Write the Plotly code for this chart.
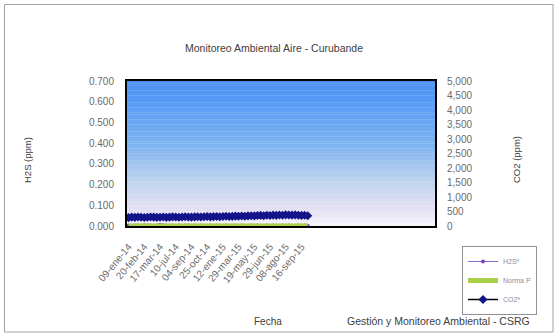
import plotly.graph_objects as go

fechas = ["09-ene-14","16-ene-14","24-ene-14","03-feb-14","11-feb-14","20-feb-14","26-feb-14","04-mar-14","07-mar-14","12-mar-14",
          "17-mar-14","08-abr-14","05-may-14","09-jun-14","26-jun-14","10-jul-14","22-jul-14","01-ago-14","14-ago-14","25-ago-14",
          "04-sep-14","12-sep-14","22-sep-14","02-oct-14","14-oct-14","25-oct-14","06-nov-14","19-nov-14","02-dic-14","16-dic-14",
          "12-ene-15","26-ene-15","09-feb-15","23-feb-15","12-mar-15","29-mar-15","08-abr-15","17-abr-15","28-abr-15","08-may-15",
          "19-may-15","26-may-15","03-jun-15","12-jun-15","20-jun-15","29-jun-15","03-jul-15","09-jul-15","15-jul-15","22-jul-15",
          "08-ago-15","13-ago-15","19-ago-15","24-ago-15","30-ago-15","16-sep-15","20-sep-15","24-sep-15"]
tick_fechas = ["09-ene-14","20-feb-14","17-mar-14","10-jul-14","04-sep-14","25-oct-14",
               "12-ene-15","29-mar-15","19-may-15","29-jun-15","08-ago-15","16-sep-15"]
co2_ppm = [290, 305, 298, 310, 302, 295, 300, 312, 306, 299, 303, 310, 298, 305, 315, 308, 300, 311, 318, 309,
           305, 314, 320, 312, 318, 325, 316, 322, 330, 320, 326, 335, 328, 332, 340, 336, 345, 338, 350, 356,
           348, 360, 366, 355, 370, 362, 375, 368, 380, 372, 385, 378, 376, 382, 370, 365, 372, 355]
h2s_ppm = [0.002, 0.001, 0.003, 0.002, 0.001, 0.004, 0.002, 0.003, 0.001, 0.002, 0.006, 0.004, 0.002, 0.001, 0.002,
           0.001, 0.002, 0.001, 0.003, 0.002, 0.001, 0.002, 0.001, 0.002, 0.001, 0.001, 0.002, 0.001, 0.002, 0.001,
           0.001, 0.002, 0.001, 0.001, 0.002, 0.001, 0.002, 0.001, 0.001, 0.002, 0.001, 0.002, 0.001, 0.001, 0.002,
           0.001, 0.002, 0.001, 0.001, 0.002, 0.001, 0.002, 0.001, 0.001, 0.002, 0.001, 0.002, 0.001]
norma_x = ["09-ene-14", "24-sep-15"]
norma_ppm = [0.0, 0.0]
h2s_ticks = [0.0, 0.1, 0.2, 0.3, 0.4, 0.5, 0.6, 0.7]
co2_ticks = [0, 500, 1000, 1500, 2000, 2500, 3000, 3500, 4000, 4500, 5000]

W, H = 560, 336
L, R, T, B = 127, 435, 81, 226
pw, ph = R - L, B - T
grey = "#6a6a6a"
font = "Liberation Sans, Arial, sans-serif"

fig = go.Figure()
fig.add_trace(go.Scatter(x=fechas, y=h2s_ppm, name="H2S*", mode="lines+markers",
                         line=dict(color="#8a6ad0", width=1), marker=dict(color="#8040c0", size=4),
                         cliponaxis=False))
fig.add_trace(go.Scatter(x=norma_x, y=norma_ppm, name="Norma P", mode="lines",
                         line=dict(color="#a8d048", width=5), cliponaxis=False))
fig.add_trace(go.Scatter(x=fechas, y=co2_ppm, name="CO2*", yaxis="y2", mode="lines+markers",
                         line=dict(color="#000000", width=1.5),
                         marker=dict(color="#14148a", size=7, symbol="diamond", line=dict(width=0))))

# gradient background of the plot area
def lerp(c1, c2, t):
    return tuple(round(a + (b - a) * t) for a, b in zip(c1, c2))
stops = [(0.0, (246, 246, 250)), (0.12, (228, 224, 244)), (0.3, (192, 212, 238)),
         (0.55, (128, 180, 240)), (0.85, (88, 156, 246)), (1.0, (76, 144, 240))]
shapes = []
n = 60
for i in range(n):
    t0, t1 = i / n, (i + 1) / n
    tm = (t0 + t1) / 2
    for j in range(len(stops) - 1):
        if stops[j][0] <= tm <= stops[j + 1][0]:
            f = (tm - stops[j][0]) / (stops[j + 1][0] - stops[j][0])
            c = lerp(stops[j][1], stops[j + 1][1], f)
            break
    shapes.append(dict(type="rect", xref="x domain", yref="y domain", x0=0, x1=1, y0=t0, y1=t1 + 0.002,
                       fillcolor="rgb(%d,%d,%d)" % c, line=dict(width=0), layer="below"))
# outer chart border
shapes.append(dict(type="rect", xref="paper", yref="paper",
                   x0=(4.5 - L) / pw, x1=(553 - L) / pw, y0=(B - 332) / ph, y1=(B - 4.5) / ph,
                   line=dict(color="#a0a0a0", width=1), fillcolor="rgba(0,0,0,0)", layer="above"))

def note(text, x, y, size, angle=0):
    return dict(text=text, xref="paper", yref="paper", x=(x - L) / pw, y=(B - y) / ph,
                xanchor="center", yanchor="middle", textangle=angle, showarrow=False,
                font=dict(size=size, color="#404040"))

fig.update_layout(
    width=W, height=H, margin=dict(l=L, r=W - R, t=T, b=H - B),
    paper_bgcolor="white", plot_bgcolor="white",
    font=dict(family=font, size=9, color=grey),
    title=dict(text="Monitoreo Ambiental Aire - Curubande", x=274 / W, xanchor="center",
               y=1 - 48 / H, yanchor="middle", font=dict(size=10.5, color="#404040")),
    shapes=shapes,
    showlegend=True,
    legend=dict(x=(462 - L) / pw, y=(B - 246) / ph, xanchor="left", yanchor="top",
                bordercolor="#909090", borderwidth=1, bgcolor="white",
                font=dict(size=7, color="#8090b0"), traceorder="normal",
                itemwidth=30),
    xaxis=dict(type="category", categoryorder="array", categoryarray=fechas,
               range=[-0.5, 97.5], tickmode="array", tickvals=tick_fechas, ticktext=tick_fechas,
               tickangle=-50, showgrid=False, zeroline=False, showline=True, linecolor="#000000",
               linewidth=2, mirror=True, ticks="", ticklabelstandoff=9,
               tickfont=dict(size=10, color=grey)),
    yaxis=dict(range=[0, 0.7], tickvals=h2s_ticks, tickformat=".3f", showgrid=False, zeroline=False,
               showline=True, linecolor="#000000", linewidth=2, ticks="", ticklabelstandoff=9,
               tickfont=dict(size=10, color=grey)),
    yaxis2=dict(range=[0, 5000], tickvals=co2_ticks, tickformat=",d", overlaying="y", side="right",
                showgrid=False, zeroline=False, showline=True, linecolor="#000000", linewidth=2,
                ticks="", ticklabelstandoff=8, tickfont=dict(size=10, color=grey)),
    annotations=[
        note("H2S (ppm)", 27, 160, 9.5, -90),
        note("CO2 (ppm)", 516, 160, 9.5, -90),
        note("Fecha", 268, 321, 10),
        note("Gestión y Monitoreo Ambiental - CSRG", 438, 321, 10.5),
    ],
)
fig.write_html("out.html", config={"displayModeBar": False},
               post_script="document.body.style.margin='0';")
